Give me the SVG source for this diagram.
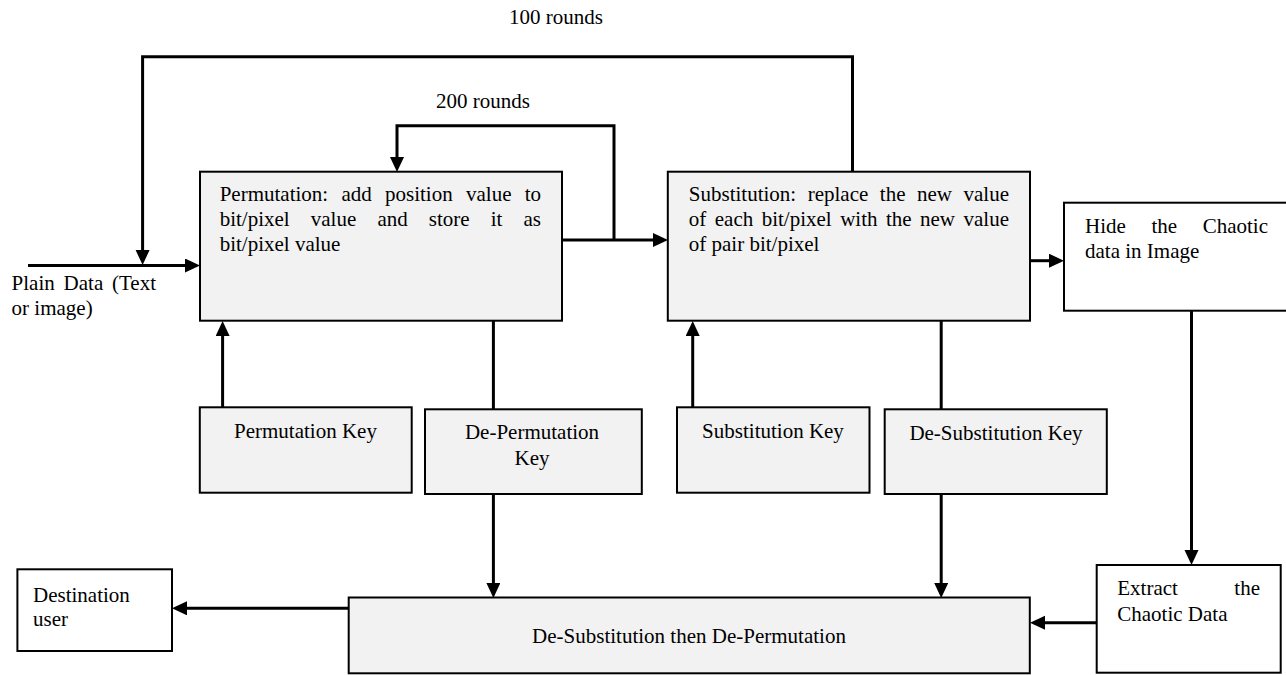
<svg xmlns="http://www.w3.org/2000/svg" width="1286" height="675" viewBox="0 0 1286 675">
<style>
text{font-family:"Liberation Serif","Times New Roman",serif;font-size:21px;fill:#000}
.box{fill:#f2f2f2;stroke:#000;stroke-width:2}
.wbox{fill:#fff;stroke:#000;stroke-width:2}
.c{fill:none;stroke:#000;stroke-width:3}
.mid{text-anchor:middle}
</style>
<defs>
<marker id="ah" markerUnits="userSpaceOnUse" markerWidth="16" markerHeight="15" refX="11" refY="7" orient="auto">
<path d="M0,0 L15,7 L0,14 z" fill="#000"/>
</marker>
</defs>
<rect width="1286" height="675" fill="#fff"/>
<text x="509" y="24">100 rounds</text>
<text x="436" y="108">200 rounds</text>
<g id="plain">
<text y="290"><tspan x="11.6">Plain</tspan><tspan x="63.6">Data</tspan><tspan x="112">(Text</tspan></text>
<text x="11.6" y="315">or image)</text>
</g>
<g id="connectors">
<path class="c" d="M28,265.5 H196" marker-end="url(#ah)"/>
<path class="c" d="M852.5,171.7 V56.7 H142.6 V261" marker-end="url(#ah)"/>
<path class="c" d="M614,240 V125.7 H397 V168" marker-end="url(#ah)"/>
<path class="c" d="M562,240 H664" marker-end="url(#ah)"/>
<path class="c" d="M1030,260.7 H1060" marker-end="url(#ah)"/>
<path class="c" d="M222.6,407 V325" marker-end="url(#ah)"/>
<path class="c" d="M493.4,321 V409.3"/>
<path class="c" d="M493.4,494 V594" marker-end="url(#ah)"/>
<path class="c" d="M692.7,407 V325" marker-end="url(#ah)"/>
<path class="c" d="M941.2,321 V409.3"/>
<path class="c" d="M941.2,494 V594" marker-end="url(#ah)"/>
<path class="c" d="M1191.5,310.7 V561" marker-end="url(#ah)"/>
<path class="c" d="M1096.5,622.7 H1034" marker-end="url(#ah)"/>
<path class="c" d="M348.7,608.3 H176" marker-end="url(#ah)"/>
</g>
<g id="permutation">
<rect class="box" x="200" y="171.7" width="362" height="149"/>
<text y="201"><tspan x="219.7">Permutation:</tspan><tspan x="341.5">add</tspan><tspan x="385">position</tspan><tspan x="466">value</tspan><tspan x="524.7">to</tspan></text>
<text y="226"><tspan x="219.7">bit/pixel</tspan><tspan x="310.8">value</tspan><tspan x="377.4">and</tspan><tspan x="428.8">store</tspan><tspan x="490.7">it</tspan><tspan x="523.5">as</tspan></text>
<text x="219.7" y="251">bit/pixel value</text>
</g>
<g id="substitution">
<rect class="box" x="667.8" y="171.7" width="362.2" height="149"/>
<text y="201"><tspan x="688.8">Substitution:</tspan><tspan x="807.7">replace</tspan><tspan x="879.8">the</tspan><tspan x="917">new</tspan><tspan x="963.5">value</tspan></text>
<text y="226"><tspan x="688.8">of</tspan><tspan x="714.8">each</tspan><tspan x="761.7">bit/pixel</tspan><tspan x="840.2">with</tspan><tspan x="885.9">the</tspan><tspan x="920">new</tspan><tspan x="963.5">value</tspan></text>
<text x="688.8" y="251">of pair bit/pixel</text>
</g>
<g id="hide">
<rect class="wbox" x="1064" y="202.7" width="240" height="108"/>
<text y="233.3"><tspan x="1085">Hide</tspan><tspan x="1151.4">the</tspan><tspan x="1202.7">Chaotic</tspan></text>
<text x="1085" y="258.3">data in Image</text>
</g>
<g id="perm-key">
<rect class="box" x="199.8" y="407.3" width="211.9" height="85.4"/>
<text class="mid" x="305.5" y="438">Permutation Key</text>
</g>
<g id="deperm-key">
<rect class="box" x="425" y="409.3" width="216.8" height="84.7"/>
<text class="mid" x="532" y="439">De-Permutation</text>
<text class="mid" x="532" y="465">Key</text>
</g>
<g id="sub-key">
<rect class="box" x="677" y="407.3" width="192.5" height="85.4"/>
<text class="mid" x="773" y="437.7">Substitution Key</text>
</g>
<g id="desub-key">
<rect class="box" x="884.7" y="409.3" width="222.1" height="84.7"/>
<text class="mid" x="996" y="440">De-Substitution Key</text>
</g>
<g id="extract">
<rect class="wbox" x="1096.7" y="565" width="184" height="107.7"/>
<text y="595"><tspan x="1117.3">Extract</tspan><tspan x="1234.3">the</tspan></text>
<text x="1117.3" y="621">Chaotic Data</text>
</g>
<g id="decrypt">
<rect class="box" x="348.7" y="597.5" width="681.1" height="75.8"/>
<text class="mid" x="689" y="643.3">De-Substitution then De-Permutation</text>
</g>
<g id="destination">
<rect class="wbox" x="17.4" y="569.3" width="154.6" height="81.7"/>
<text x="33" y="601.7">Destination</text>
<text x="33" y="626">user</text>
</g>
</svg>
